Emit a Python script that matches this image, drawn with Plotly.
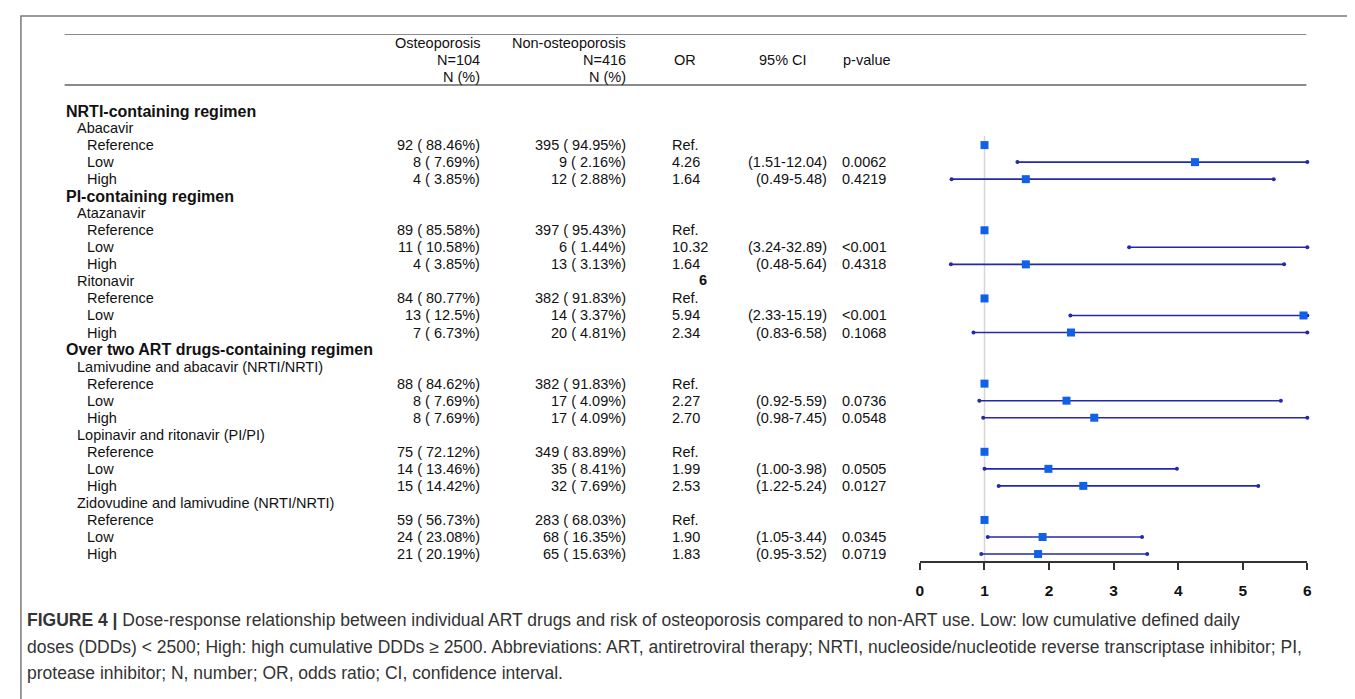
import plotly.graph_objects as go

# ---------------- data ----------------
row_labels = [
    "NRTI-containing regimen", "Abacavir", "Reference", "Low", "High",
    "PI-containing regimen", "Atazanavir", "Reference", "Low", "High",
    "Ritonavir", "Reference", "Low", "High",
    "Over two ART drugs-containing regimen",
    "Lamivudine and abacavir (NRTI/NRTI)", "Reference", "Low", "High",
    "Lopinavir and ritonavir (PI/PI)", "Reference", "Low", "High",
    "Zidovudine and lamivudine (NRTI/NRTI)", "Reference", "Low", "High",
]
row_level = [0, 1, 2, 2, 2, 0, 1, 2, 2, 2, 1, 2, 2, 2, 0, 1, 2, 2, 2, 1, 2, 2, 2, 1, 2, 2, 2]

osteo_n = ["", "", "92 ( 88.46%)", "8 ( 7.69%)", "4 ( 3.85%)", "", "",
           "89 ( 85.58%)", "11 ( 10.58%)", "4 ( 3.85%)", "",
           "84 ( 80.77%)", "13 ( 12.5%)", "7 ( 6.73%)", "", "",
           "88 ( 84.62%)", "8 ( 7.69%)", "8 ( 7.69%)", "",
           "75 ( 72.12%)", "14 ( 13.46%)", "15 ( 14.42%)", "",
           "59 ( 56.73%)", "24 ( 23.08%)", "21 ( 20.19%)"]
non_osteo_n = ["", "", "395 ( 94.95%)", "9 ( 2.16%)", "12 ( 2.88%)", "", "",
               "397 ( 95.43%)", "6 ( 1.44%)", "13 ( 3.13%)", "",
               "382 ( 91.83%)", "14 ( 3.37%)", "20 ( 4.81%)", "", "",
               "382 ( 91.83%)", "17 ( 4.09%)", "17 ( 4.09%)", "",
               "349 ( 83.89%)", "35 ( 8.41%)", "32 ( 7.69%)", "",
               "283 ( 68.03%)", "68 ( 16.35%)", "65 ( 15.63%)"]
or_text = ["", "", "Ref.", "4.26", "1.64", "", "", "Ref.", "10.32", "1.64", "",
           "Ref.", "5.94", "2.34", "", "", "Ref.", "2.27", "2.70", "",
           "Ref.", "1.99", "2.53", "", "Ref.", "1.90", "1.83"]
ci_text = ["", "", "", "(1.51-12.04)", "(0.49-5.48)", "", "", "", "(3.24-32.89)", "(0.48-5.64)", "",
           "", "(2.33-15.19)", "(0.83-6.58)", "", "", "", "(0.92-5.59)", "(0.98-7.45)", "",
           "", "(1.00-3.98)", "(1.22-5.24)", "", "", "(1.05-3.44)", "(0.95-3.52)"]
p_text = ["", "", "", "0.0062", "0.4219", "", "", "", "<0.001", "0.4318", "",
          "", "<0.001", "0.1068", "", "", "", "0.0736", "0.0548", "",
          "", "0.0505", "0.0127", "", "", "0.0345", "0.0719"]

# forest values (None where there is no estimate)
or_val = [None, None, 1, 4.26, 1.64, None, None, 1, 10.32, 1.64, None,
          1, 5.94, 2.34, None, None, 1, 2.27, 2.70, None,
          1, 1.99, 2.53, None, 1, 1.90, 1.83]
ci_lo = [None, None, None, 1.51, 0.49, None, None, None, 3.24, 0.48, None,
         None, 2.33, 0.83, None, None, None, 0.92, 0.98, None,
         None, 1.00, 1.22, None, None, 1.05, 0.95]
ci_hi = [None, None, None, 12.04, 5.48, None, None, None, 32.89, 5.64, None,
         None, 15.19, 6.58, None, None, None, 5.59, 7.45, None,
         None, 3.98, 5.24, None, None, 3.44, 3.52]

x_ticks = [0, 1, 2, 3, 4, 5, 6]
x_max = 6

caption_lines = [
    "<b>FIGURE 4 |</b> Dose-response relationship between individual ART drugs and risk of osteoporosis compared to non-ART use. Low: low cumulative defined daily",
    "doses (DDDs) < 2500; High: high cumulative DDDs ≥ 2500. Abbreviations: ART, antiretroviral therapy; NRTI, nucleoside/nucleotide reverse transcriptase inhibitor; PI,",
    "protease inhibitor; N, number; OR, odds ratio; CI, confidence interval.",
]

# ---------------- layout helpers ----------------
W, H = 1355, 699
FONT = "Liberation Sans, Arial, sans-serif"
ROW0_PX, ROW_STEP = 103, 17.04
AXIS_PX, TOP_PX = 553, 26
BODY = 14.5


def py2row(py):
    return (py - ROW0_PX) / ROW_STEP


def px(x):
    return x / W


fig = go.Figure()

# CI lines
line_x, line_y = [], []
end_x, end_y = [], []
for i, (lo, hi) in enumerate(zip(ci_lo, ci_hi)):
    if lo is None:
        continue
    a, b = min(lo, x_max), min(hi, x_max)
    line_x += [a, b, None]
    line_y += [i, i, None]
    end_x += [a, b]
    end_y += [i, i]
fig.add_trace(go.Scatter(x=line_x, y=line_y, mode="lines",
                         line=dict(color="#2528a8", width=1.6),
                         hoverinfo="skip", cliponaxis=False))
fig.add_trace(go.Scatter(x=end_x, y=end_y, mode="markers",
                         marker=dict(symbol="circle", size=4, color="#2528a8"),
                         hoverinfo="skip", cliponaxis=False))
# OR points (only those within the axis range)
pt_x = [v for v in or_val if v is not None and v <= x_max]
pt_y = [i for i, v in enumerate(or_val) if v is not None and v <= x_max]
fig.add_trace(go.Scatter(x=pt_x, y=pt_y, mode="markers",
                         marker=dict(symbol="square", size=8, color="#1060e8"),
                         cliponaxis=False))

annotations = []


def txt(x, y, s, anchor="left", size=BODY, bold=False, color="#111"):
    annotations.append(dict(
        x=px(x), y=y, xref="paper", yref="y", text=s, showarrow=False,
        xanchor=anchor, yanchor="middle",
        font=dict(family=FONT, size=size, color=color,
                  weight="bold" if bold else "normal")))


# header
hdr_rows = [py2row(35), py2row(52), py2row(69)]
for r, s in zip(hdr_rows, ["Osteoporosis", "N=104", "N (%)"]):
    txt(473, r, s, anchor="right")
for r, s in zip(hdr_rows, ["Non-osteoporosis", "N=416", "N (%)"]):
    txt(620, r, s, anchor="right")
txt(664, hdr_rows[1], "OR", anchor="left")
txt(776, hdr_rows[1], "95% CI", anchor="center")
txt(835, hdr_rows[1], "p-value", anchor="left")

indent = {0: 52, 1: 63, 2: 73}
for i, lab in enumerate(row_labels):
    lvl = row_level[i]
    if lvl == 0:
        txt(indent[0], i, lab, size=16, bold=True)
    else:
        txt(indent[lvl], i, lab)
    if osteo_n[i]:
        txt(473, i, osteo_n[i], anchor="right")
    if non_osteo_n[i]:
        txt(620, i, non_osteo_n[i], anchor="right")
    if or_text[i]:
        txt(662, i, or_text[i])
    if ci_text[i]:
        txt(822, i, ci_text[i], anchor="right")
    if p_text[i]:
        txt(834, i, p_text[i])

# stray page mark "6"
txt(696, py2row(273) - 0.05, "6", anchor="center", bold=True)

# caption
for k, line in enumerate(caption_lines):
    annotations.append(dict(
        x=px(13), y=1 - (612 + 26.5 * k) / H, xref="paper", yref="paper",
        text=line, showarrow=False, xanchor="left", yanchor="middle",
        font=dict(family=FONT, size=17.5, color="#333")))

shapes = []
# table rules
for ypx in (26, 77):
    shapes.append(dict(type="line", xref="paper", yref="y",
                       x0=px(53), x1=px(1303), y0=py2row(ypx), y1=py2row(ypx),
                       line=dict(color="#8a8a8a", width=2)))
# reference line at OR = 1
shapes.append(dict(type="line", xref="x", yref="y", x0=1, x1=1,
                   y0=py2row(128), y1=py2row(AXIS_PX),
                   line=dict(color="#d6d6d6", width=1.5), layer="below"))
# figure frame
shapes.append(dict(type="rect", xref="paper", yref="paper",
                   x0=px(9), x1=px(1352), y0=-0.05, y1=1 - 8 / H,
                   line=dict(color="#7a7a7a", width=1.5)))

fig.update_layout(
    width=W, height=H,
    margin=dict(l=0, r=0, t=0, b=0),
    paper_bgcolor="white", plot_bgcolor="white",
    showlegend=False,
    annotations=annotations, shapes=shapes,
    xaxis=dict(domain=[px(914), px(1304)], range=[0, x_max],
               tickmode="array", tickvals=x_ticks,
               ticktext=[str(t) for t in x_ticks],
               showgrid=False, zeroline=False,
               showline=True, linecolor="#333", linewidth=1.5,
               ticks="outside", ticklen=7, tickwidth=1.5, tickcolor="#333",
               ticklabelstandoff=8,
               tickfont=dict(family=FONT, size=15.5, color="#111", weight="bold")),
    yaxis=dict(domain=[1 - AXIS_PX / H, 1 - TOP_PX / H],
               range=[py2row(AXIS_PX), py2row(TOP_PX)],
               visible=False, showgrid=False, zeroline=False),
)

fig.write_html("out.html")
